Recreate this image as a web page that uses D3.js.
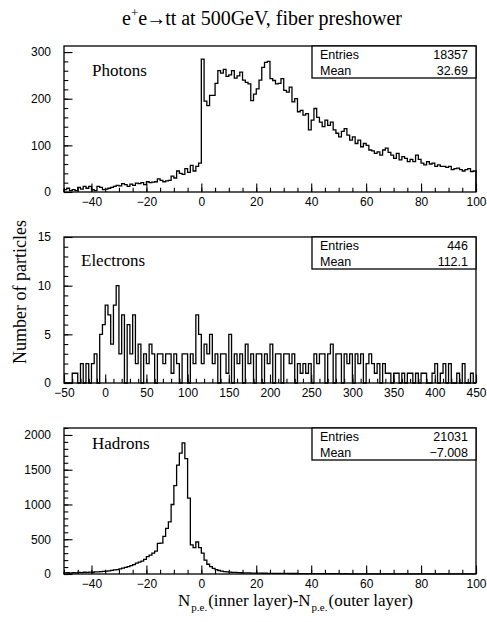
<!DOCTYPE html>
<html>
<head>
<meta charset="utf-8">
<script src="https://cdn.jsdelivr.net/npm/d3@7"></script>
<style>
  body { margin: 0; background: #fff; }
  .tick text { font-family: "Liberation Sans", Arial, sans-serif; font-size: 12px; fill: #000; }
  .tick line { stroke: #000; stroke-width: 1.1; }
</style>
</head>
<body>
<div id="chart"></div>
<script>
// bin contents (150 bins per histogram)
const photonCounts = [
  5, 8, 3, 5, 3, 10, 6, 12, 8, 12,
  5, 3, 12, 10, 5, 6, 8, 10, 12, 14,
  13, 18, 16, 12, 17, 14, 19, 18, 20, 16,
  22, 20, 21, 22, 28, 25, 22, 24, 25, 34,
  30, 45, 40, 38, 50, 42, 57, 45, 55, 62,
  285, 195, 185, 207, 207, 233, 260, 255, 263, 248,
  251, 260, 244, 249, 257, 240, 235, 232, 196, 210,
  221, 240, 267, 278, 280, 243, 239, 232, 233, 243,
  218, 214, 225, 193, 200, 172, 175, 165, 168, 133,
  154, 179, 160, 150, 140, 154, 143, 150, 133, 126,
  118, 130, 136, 122, 111, 118, 104, 111, 97, 104,
  100, 90, 88, 83, 86, 79, 90, 94, 85, 79,
  72, 83, 69, 76, 72, 65, 70, 65, 79, 70,
  62, 58, 65, 60, 62, 55, 58, 55, 55, 53,
  55, 48, 50, 51, 48, 45, 48, 50, 44, 45
];

const electronCounts = [
  0, 0, 0, 1, 1, 0, 2, 0, 2, 0,
  2, 3, 0, 5, 6, 8, 7, 4, 8, 10,
  3, 7, 0, 6, 3, 7, 2, 4, 0, 3,
  2, 4, 3, 0, 3, 3, 2, 3, 3, 1,
  3, 2, 0, 3, 3, 0, 3, 2, 7, 5,
  2, 4, 3, 5, 2, 3, 0, 3, 3, 1,
  5, 0, 3, 2, 3, 0, 4, 2, 3, 0,
  3, 3, 0, 3, 2, 4, 0, 3, 3, 0,
  3, 3, 2, 3, 0, 2, 1, 2, 1, 2,
  0, 3, 2, 3, 3, 0, 3, 4, 0, 3,
  3, 0, 3, 2, 3, 0, 3, 2, 3, 0,
  2, 3, 2, 1, 2, 0, 2, 1, 1, 0,
  1, 1, 0, 1, 0, 1, 1, 0, 1, 0,
  1, 1, 0, 0, 1, 2, 0, 1, 2, 0,
  2, 0, 0, 1, 0, 2, 0, 0, 1, 0
];

const hadronCounts = [
  15, 18, 14, 20, 17, 22, 20, 25, 22, 28,
  25, 30, 32, 35, 38, 40, 45, 52, 60, 62,
  75, 85, 95, 105, 120, 135, 155, 170, 185, 210,
  250, 272, 300, 330, 440, 445, 540, 655, 750, 1000,
  1270, 1565, 1740, 1885, 1660, 1090, 420, 380, 460, 380,
  300, 200, 140, 105, 80, 62, 50, 42, 35, 30,
  27, 24, 22, 20, 18, 17, 16, 15, 14, 13,
  12, 12, 11, 11, 10, 10, 9, 9, 9, 8,
  8, 8, 7, 7, 7, 6, 6, 6, 6, 5,
  5, 5, 5, 4, 5, 4, 4, 4, 4, 4,
  4, 3, 4, 3, 3, 3, 3, 3, 3, 3,
  3, 2, 3, 2, 3, 2, 2, 3, 2, 2,
  2, 2, 2, 2, 2, 2, 1, 2, 2, 1,
  2, 1, 2, 1, 1, 2, 1, 1, 1, 1,
  1, 1, 1, 1, 1, 1, 1, 1, 1, 1
];

const panelNames = ['Photons', 'Electrons', 'Hadrons'];
const statEntries = ['18357', '446', '21031'];
const statMeans = ['32.69', '112.1', '\u22127.008'];
const xDomains = [[-50, 100], [-50, 450], [-50, 100]];
const yDomains = [[0, 313], [0, 15], [0, 2100]];
const xMajorTicks = [
  [-40, -20, 0, 20, 40, 60, 80, 100],
  [-50, 0, 50, 100, 150, 200, 250, 300, 350, 400, 450],
  [-40, -20, 0, 20, 40, 60, 80, 100]
];
const yMajorTicks = [[0, 100, 200, 300], [0, 5, 10, 15], [0, 500, 1000, 1500, 2000]];
const xMinorStep = [5, 10, 5];
const yMinorStep = [20, 1, 100];

const w = 487;
const h = 622;
const left = 64;
const right = 476;
const panelTops = [46, 237, 428];
const panelH = 146;
const labelPos = [[92, 76], [81, 266], [92, 449]];
const serif = '"Liberation Serif", "Times New Roman", serif';
const sans = '"Liberation Sans", Arial, sans-serif';

function histPoints(counts, x0, x1) {
  const bw = (x1 - x0) / counts.length;
  const pts = [[x0, 0]];
  counts.forEach((c, i) => {
    pts.push([x0 + i * bw, c]);
    pts.push([x0 + (i + 1) * bw, c]);
  });
  pts.push([x1, 0]);
  return pts;
}

function drawPanel(svg, i, counts) {
  const top = panelTops[i];
  const x = d3.scaleLinear().domain(xDomains[i]).range([left, right]);
  const y = d3.scaleLinear().domain(yDomains[i]).range([top + panelH, top]);
  const g = svg.append('g');

  const fmt = d => d3.format('')(d);

  // minor ticks
  const xMin = d3.range(xDomains[i][0], xDomains[i][1] + 0.001, xMinorStep[i]);
  const yMin = d3.range(yDomains[i][0], yDomains[i][1] + 0.001, yMinorStep[i]);
  g.append('g')
    .attr('transform', `translate(0,${top + panelH})`)
    .call(d3.axisBottom(x).tickValues(xMin).tickSize(-4.3).tickFormat(''))
    .call(a => a.select('.domain').remove());
  g.append('g')
    .attr('transform', `translate(${left},0)`)
    .call(d3.axisLeft(y).tickValues(yMin).tickSize(-4.3).tickFormat(''))
    .call(a => a.select('.domain').remove());

  // major ticks with labels
  g.append('g')
    .attr('transform', `translate(0,${top + panelH})`)
    .call(d3.axisBottom(x).tickValues(xMajorTicks[i]).tickSize(-8.5).tickPadding(5).tickFormat(fmt))
    .call(a => a.select('.domain').remove());
  g.append('g')
    .attr('transform', `translate(${left},0)`)
    .call(d3.axisLeft(y).tickValues(yMajorTicks[i]).tickSize(-8.5).tickPadding(13).tickFormat(fmt))
    .call(a => a.select('.domain').remove());

  const line = d3.line().x(d => x(d[0])).y(d => y(d[1]));
  g.append('path')
    .attr('d', line(histPoints(counts, xDomains[i][0], xDomains[i][1])))
    .attr('fill', 'none')
    .attr('stroke', '#000')
    .attr('stroke-width', 1.3);

  g.append('rect')
    .attr('x', left).attr('y', top)
    .attr('width', right - left).attr('height', panelH)
    .attr('fill', 'none').attr('stroke', '#000').attr('stroke-width', 1.3);

  g.append('text')
    .attr('x', labelPos[i][0]).attr('y', labelPos[i][1])
    .style('font-family', serif)
    .style('font-size', '17px')
    .text(panelNames[i]);

  // stats box
  const bx = 312;
  const box = g.append('g');
  box.append('rect')
    .attr('x', bx).attr('y', top)
    .attr('width', right - bx).attr('height', 32)
    .attr('fill', '#fff').attr('stroke', '#000').attr('stroke-width', 1.3);
  const rows = [['Entries', statEntries[i]], ['Mean', statMeans[i]]];
  rows.forEach((r, k) => {
    const by = top + 12.5 + k * 16;
    box.append('text').attr('x', 320).attr('y', by)
      .style('font-family', sans).style('font-size', '12.5px')
      .text(r[0]);
    box.append('text').attr('x', 468).attr('y', by).attr('text-anchor', 'end')
      .style('font-family', sans).style('font-size', '12.5px')
      .text(r[1]);
  });
}

// text made of pieces laid side by side, each piece its own text node
function piecewiseText(svg, x0, y0, pieces) {
  let cx = x0;
  pieces.forEach(p => {
    const t = svg.append('text')
      .attr('x', cx).attr('y', y0 + (p.dy || 0))
      .style('font-family', serif)
      .style('font-size', p.size + 'px')
      .text(p.text);
    cx += t.node().getComputedTextLength() + (p.gap || 0);
  });
}

function drawChart() {
  const svg = d3.select('#chart')
    .append('svg')
    .attr('width', w)
    .attr('height', h);

  piecewiseText(svg, 122, 25, [
    { text: 'e', size: 20 },
    { text: '+', size: 13, dy: -8 },
    { text: 'e', size: 20, gap: -1 },
    { text: '\u2192', size: 20, gap: -1 },
    { text: 'tt at 500GeV, fiber preshower', size: 20 }
  ]);

  drawPanel(svg, 0, photonCounts);
  drawPanel(svg, 1, electronCounts);
  drawPanel(svg, 2, hadronCounts);

  svg.append('text')
    .attr('transform', 'translate(26,292) rotate(-90)')
    .attr('text-anchor', 'middle')
    .style('font-family', serif)
    .style('font-size', '18px')
    .text('Number of particles');

  piecewiseText(svg, 178, 606, [
    { text: 'N', size: 17, gap: 1 },
    { text: 'p.e.', size: 11, dy: 5, gap: 1 },
    { text: '(inner layer)-N', size: 17, gap: 1 },
    { text: 'p.e.', size: 11, dy: 5, gap: 1 },
    { text: '(outer layer)', size: 17 }
  ]);
}

document.addEventListener('DOMContentLoaded', () => {
  drawChart();
});
</script>
</body>
</html>
